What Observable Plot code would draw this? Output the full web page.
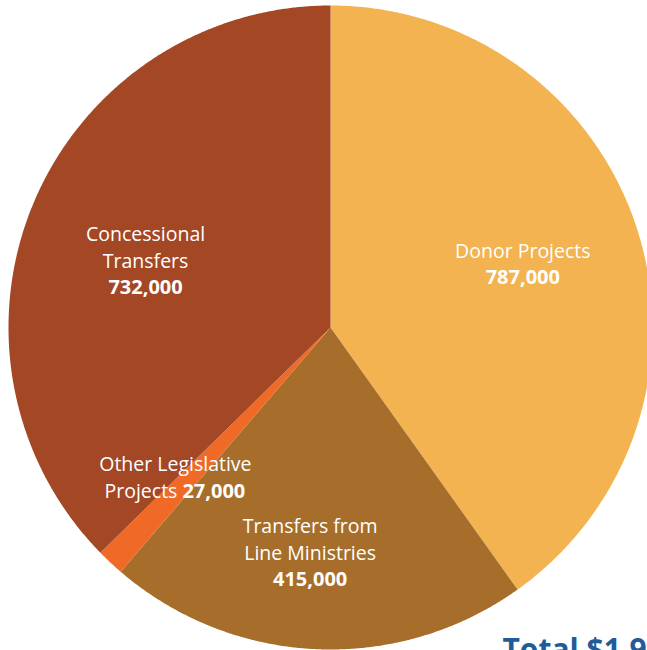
<!DOCTYPE html>
<html>
<head>
<meta charset="utf-8">
<script src="https://cdn.jsdelivr.net/npm/d3@7"></script>
<script src="https://cdn.jsdelivr.net/npm/@observablehq/plot@0.6"></script>
<style>
  html, body { margin: 0; padding: 0; background: #fff; }
  #chart svg { display: block; }
</style>
</head>
<body>
<div id="chart"></div>
<script>
// ---- data ----
const categories = ["Donor Projects", "Transfers from Line Ministries", "Other Legislative Projects", "Concessional Transfers"];
const values = [787000, 415000, 27000, 732000];
const labelLines = [["Donor Projects"], ["Transfers from", "Line Ministries"], ["Other Legislative", "Projects"], ["Concessional", "Transfers"]];
const totalLabel = "Total $1.96 million";

// ---- style ----
const colors = ["#F2B350", "#A66E2A", "#EF6A26", "#A34725"];
const W = 647, H = 650, R = 322, CX = 330, CY = 327;
const FONT = "'Open Sans', sans-serif";
const nudges = [[-7, 1], [-11, 17], [-12, -2], [8, 15]]; // label nudges in px
const LH = 26.5;

const fmt = d3.format(",");
const table = categories.map((c, i) => ({category: c, value: values[i], lines: labelLines[i]}));
const arcs = d3.pie().value(d => d.value).sort(null)(table);

// slice outlines (in unit-radius coordinates, y up)
const slicePts = [];
arcs.forEach(a => {
  const c = a.data.category;
  slicePts.push({category: c, x: 0, y: 0});
  const n = Math.max(2, Math.ceil((a.endAngle - a.startAngle) / 0.005));
  for (let k = 0; k <= n; k++) {
    const t = a.startAngle + (a.endAngle - a.startAngle) * k / n;
    slicePts.push({category: c, x: Math.sin(t), y: Math.cos(t)});
  }
  slicePts.push({category: c, x: 0, y: 0});
});

// label rows
const rows = [];
arcs.forEach((a, i) => {
  const mid = (a.startAngle + a.endAngle) / 2;
  const bx = Math.sin(mid) * 0.65 + nudges[i][0] / R;
  const by = Math.cos(mid) * 0.65 - nudges[i][1] / R;
  const lines = a.data.lines;
  const mixed = a.data.category === "Other Legislative Projects";
  const nLines = mixed ? lines.length : lines.length + 1;
  const off = k => ((nLines - 1) / 2 - k) * LH / R;
  lines.forEach((t, k) => {
    if (mixed && k === lines.length - 1) {
      rows.push({text: t, bold: false, anchor: "end", x: bx + 2 / R, y: by + off(k)});
    } else {
      rows.push({text: t, bold: false, anchor: "middle", x: bx, y: by + off(k)});
    }
  });
  if (mixed) {
    rows.push({text: fmt(a.data.value), bold: true, anchor: "start", x: bx + 7 / R, y: by + off(lines.length - 1)});
  } else {
    rows.push({text: fmt(a.data.value), bold: true, anchor: "middle", x: bx, y: by + off(lines.length)});
  }
});

const textMark = (bold, anchor) => Plot.text(rows.filter(r => r.bold === bold && r.anchor === anchor), {
  x: "x", y: "y", text: "text", textAnchor: anchor, lineAnchor: "middle",
  fill: "white", fontSize: bold ? 20 : 19.5, fontWeight: bold ? 700 : 400, fontFamily: FONT
});

const chart = Plot.plot({
  width: W, height: H,
  margin: 0,
  style: {background: "white", overflow: "hidden"},
  x: {domain: [-CX / R, (W - CX) / R], axis: null},
  y: {domain: [-(H - CY) / R, CY / R], axis: null},
  color: {domain: categories, range: colors},
  marks: [
    Plot.line(slicePts, {x: "x", y: "y", z: "category", fill: "category", stroke: null, curve: "linear"}),
    textMark(false, "middle"), textMark(false, "end"), textMark(true, "middle"), textMark(true, "start"),
    Plot.text([totalLabel], {text: d => d, frameAnchor: "bottom-left", dx: 502, dy: 9, textAnchor: "start", lineAnchor: "bottom",
      fill: "#1F5C99", fontSize: 30, fontWeight: 700, fontFamily: FONT})
  ]
});
document.getElementById("chart").appendChild(chart);
</script>
</body>
</html>
